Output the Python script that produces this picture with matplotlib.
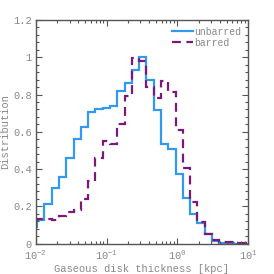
import numpy as np
import matplotlib
matplotlib.use("Agg")
import matplotlib.pyplot as plt
from matplotlib.ticker import LogLocator, MultipleLocator, FixedLocator

plt.rcParams['font.family'] = ['Liberation Mono', 'DejaVu Sans Mono']
plt.rcParams['mathtext.fontset'] = 'custom'
plt.rcParams['mathtext.rm'] = 'Liberation Mono'
plt.rcParams['mathtext.it'] = 'Liberation Mono'

# log10 bin edges (30 bins)
log_start = -2.085
log_stop = 1.005
n_bins = 30

unbarred = [0.09, 0.126, 0.21, 0.30, 0.36, 0.457, 0.56, 0.626, 0.705, 0.72,
            0.73, 0.737, 0.817, 0.86, 0.93, 1.0, 0.878, 0.716, 0.536, 0.509,
            0.374, 0.245, 0.158, 0.113, 0.05, 0.014, 0.003, 0.002, 0.0, 0.0]
barred = [0.126, 0.13, 0.13, 0.128, 0.148, 0.167, 0.18, 0.24, 0.335, 0.458,
          0.553, 0.533, 0.64, 0.79, 0.998, 0.982, 0.842, 0.78, 0.873, 0.812,
          0.608, 0.406, 0.221, 0.117, 0.05, 0.018, 0.011, 0.007, 0.004, 0.004]

yticks = [0, 0.2, 0.4, 0.6, 0.8, 1.0, 1.2]
ytick_labels = ['0', '0.2', '0.4', '0.6', '0.8', '1', '1.2']
xticks = [1e-2, 1e-1, 1e0, 1e1]
xtick_labels = [r'$10^{-2}$', r'$10^{-1}$', r'$10^{0}$', r'$10^{1}$']

edges = np.logspace(log_start, log_stop, n_bins + 1)

fig = plt.figure(figsize=(2.74, 2.74), dpi=100)
ax = fig.add_axes([0.131, 0.111, 0.774, 0.816])

blue = '#3399ee'
purple = '#7a1a78'
ax.stairs(unbarred, edges, color=blue, lw=1.6, label='unbarred')
ax.stairs(barred, edges, color=purple, lw=1.6, ls=(0, (4, 2.5)), label='barred')

ax.set_xscale('log')
ax.set_xlim(1e-2, 1e1)
ax.set_ylim(0, 1.2)
ax.xaxis.set_major_locator(FixedLocator(xticks))
ax.xaxis.set_minor_locator(LogLocator(base=10, subs=np.arange(2, 10)))
ax.set_xticklabels(xtick_labels)
ax.yaxis.set_major_locator(FixedLocator(yticks))
ax.yaxis.set_minor_locator(MultipleLocator(0.04))
ax.set_yticklabels(ytick_labels)

tc = '#888888'
sc = '#555555'
ax.tick_params(which='both', direction='in', top=True, right=True,
               colors=sc, labelcolor=tc, labelsize=7.5, width=0.8)
ax.tick_params(which='major', length=4, pad=3)
ax.tick_params(axis='x', which='major', pad=4)
ax.tick_params(which='minor', length=2)
for s in ax.spines.values():
    s.set_color(sc)
    s.set_linewidth(1.0)

ax.set_xlabel('Gaseous disk thickness [kpc]', color=tc, fontsize=7.5, labelpad=1)
ax.set_ylabel('Distribution', color=tc, fontsize=7.5, labelpad=2)

leg = ax.legend(loc='upper right', frameon=False, fontsize=7, handlelength=2.2,
                handletextpad=0.1, borderaxespad=0.3, labelspacing=0.1)
for t in leg.get_texts():
    t.set_color(tc)

fig.savefig('out.png', dpi=100)
